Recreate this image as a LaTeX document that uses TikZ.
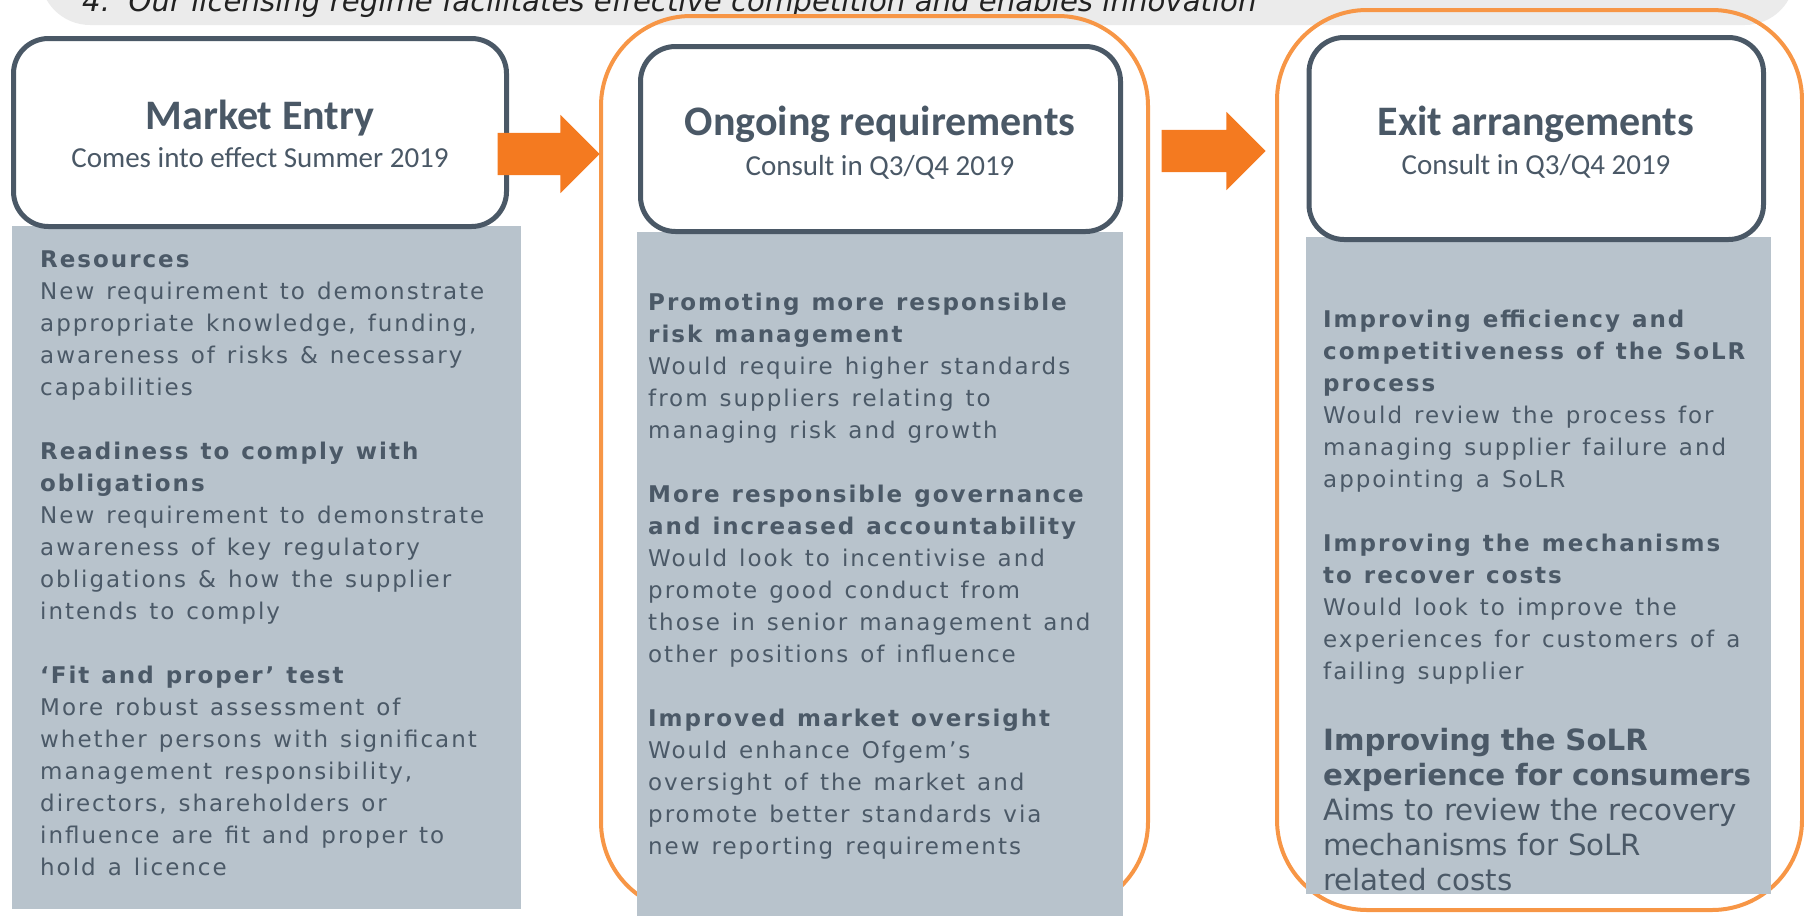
\documentclass[tikz,border=0pt]{standalone}
\usepackage{fontspec}
\usetikzlibrary{shapes.arrows}
\newfontfamily\headfont{Carlito}
\newfontfamily\bodyfont[LetterSpace=8.6]{DejaVu Sans}
\newfontfamily\plainfont{DejaVu Sans}
\newcommand\widespaces{\spaceskip=12pt\relax}
\definecolor{slate}{HTML}{4B5967}
\definecolor{boxline}{HTML}{4A5866}
\definecolor{panelgrey}{HTML}{B8C3CC}
\definecolor{arroworange}{HTML}{F47A20}
\definecolor{frameorange}{HTML}{F79646}
\definecolor{bannergrey}{HTML}{EBEBEB}
\definecolor{bannertext}{HTML}{222222}
\tikzset{
  frame/.style={draw=frameorange, line width=4pt, rounded corners=90pt, inner sep=0pt, outer sep=0pt},
  panel/.style={fill=panelgrey, inner sep=0pt, outer sep=0pt},
  headbox/.style={draw=boxline, fill=white, line width=5pt, rounded corners=35pt, inner sep=0pt, outer sep=0pt},
  title/.style={anchor=base, inner sep=0pt, text=boxline, font=\headfont\bfseries\fontsize{42}{50}\selectfont},
  subtitle/.style={anchor=base, inner sep=0pt, text=boxline, font=\headfont\fontsize{29}{35}\selectfont},
  body/.style={anchor=base west, inner sep=0pt, text=slate, align=left, text width=600pt, font=\bodyfont\fontsize{23}{32}\selectfont, execute at begin node=\widespaces},
  bigbody/.style={anchor=base west, inner sep=0pt, text=slate, align=left, text width=600pt, font=\plainfont\fontsize{29.3}{35}\selectfont},
  blockarrow/.style={single arrow, fill=arroworange, draw=none, inner sep=21pt, outer sep=0pt, minimum width=78pt, single arrow head extend=18pt, single arrow tip angle=90}
}
\begin{document}
\begin{tikzpicture}[x=1pt,y=-1pt]
\useasboundingbox (0,0) rectangle (1804,916);
\clip (0,0) rectangle (1804,916);
% banner
\fill[bannergrey, rounded corners=50pt] (40,-90) rectangle (1795,25);
\node[anchor=base west, inner sep=0pt, text=bannertext, font=\plainfont\itshape\fontsize{29.2}{35}\selectfont] (banner) at (82,11) {4.\ \ Our licensing regime facilitates effective competition and enables innovation};
% orange frames
\node[frame, minimum width=547pt, minimum height=896pt] (midframe) at (874.5,464) {};
\node[frame, minimum width=525pt, minimum height=900pt] (rightframe) at (1539.5,460) {};
% panels
\node[panel, minimum width=509pt, minimum height=683pt] (leftpanel) at (266.5,567.5) {};
\node[panel, minimum width=486pt, minimum height=684pt] (midpanel) at (880,574) {};
\node[panel, minimum width=465pt, minimum height=657pt] (rightpanel) at (1538.5,565.5) {};
% header boxes
\node[headbox, minimum width=493pt, minimum height=188pt] (leftbox) at (260,132.5) {};
\node[headbox, minimum width=480pt, minimum height=185pt] (midbox) at (880.5,139) {};
\node[headbox, minimum width=454.5pt, minimum height=202pt] (rightbox) at (1536.25,138.5) {};
% header texts
\node[title] (t1) at (260,129) {Market Entry};
\node[subtitle] (s1) at (260,167) {Comes into effect Summer 2019};
\node[title] (t2) at (880,135) {Ongoing requirements};
\node[subtitle] (s2) at (880,175) {Consult in Q3/Q4 2019};
\node[title] (t3) at (1536,135) {Exit arrangements};
\node[subtitle] (s3) at (1536,174) {Consult in Q3/Q4 2019};
% arrows
\node[blockarrow, minimum height=102pt] (a1) at (538,154) {};
\node[blockarrow, minimum height=104pt] (a2) at (1203,151) {};
% body texts
\node[body] (lefttext) at (40,267) {\textbf{Resources}\\
New requirement to demonstrate\\
appropriate knowledge, funding,\\
awareness of risks \& necessary\\
capabilities\\[32pt]
\textbf{Readiness to comply with}\\
\textbf{obligations}\\
New requirement to demonstrate\\
awareness of key regulatory\\
obligations \& how the supplier\\
intends to comply\\[32pt]
\textbf{‘Fit and proper’ test}\\
More robust assessment of\\
whether persons with significant\\
management responsibility,\\
directors, shareholders or\\
influence are fit and proper to\\
hold a licence};
\node[body] (midtext) at (648,310) {\textbf{Promoting more responsible}\\
\textbf{risk management}\\
Would require higher standards\\
from suppliers relating to\\
managing risk and growth\\[32pt]
\textbf{More responsible governance}\\
\textbf{and increased accountability}\\
Would look to incentivise and\\
promote good conduct from\\
those in senior management and\\
other positions of influence\\[32pt]
\textbf{Improved market oversight}\\
Would enhance Ofgem’s\\
oversight of the market and\\
promote better standards via\\
new reporting requirements};
\node[body] (righttext) at (1323,327) {\textbf{Improving efficiency and}\\
\textbf{competitiveness of the SoLR}\\
\textbf{process}\\
Would review the process for\\
managing supplier failure and\\
appointing a SoLR\\[32pt]
\textbf{Improving the mechanisms}\\
\textbf{to recover costs}\\
Would look to improve the\\
experiences for customers of a\\
failing supplier};
\node[bigbody] (righttext2) at (1323,750) {\textbf{Improving the SoLR}\\
\textbf{experience for consumers}\\
Aims to review the recovery\\
mechanisms for SoLR\\
related costs};
\end{tikzpicture}
\end{document}
